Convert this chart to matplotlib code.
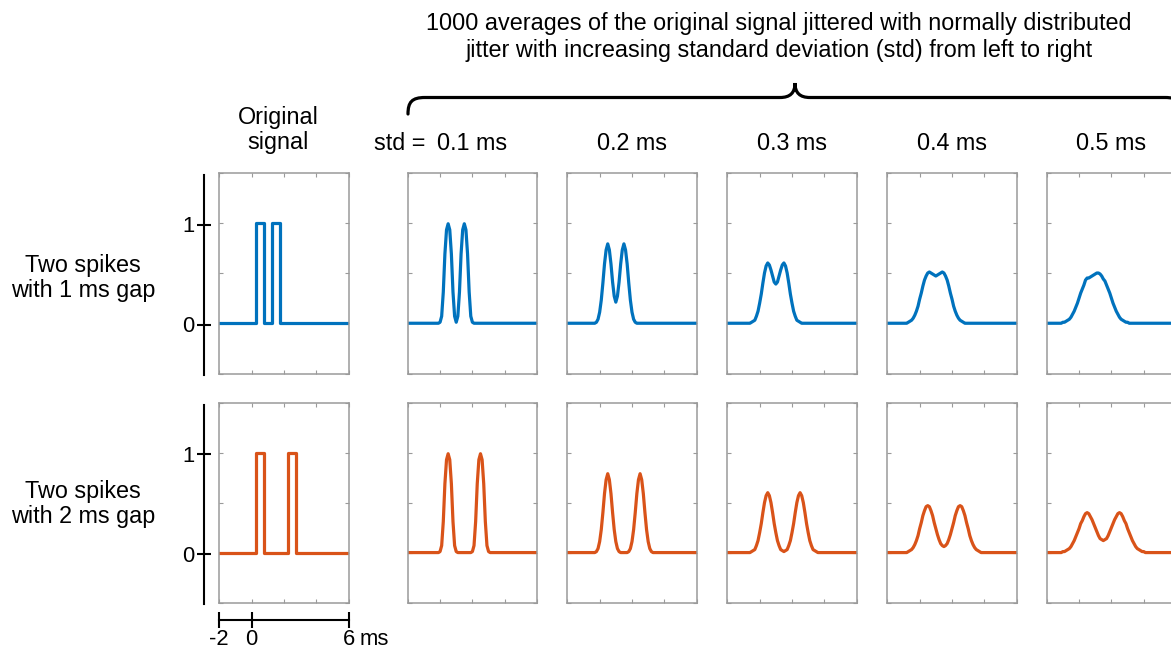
import numpy as np
import matplotlib
matplotlib.use("Agg")
import matplotlib.pyplot as plt
from matplotlib.path import Path
from matplotlib.patches import PathPatch

plt.rcParams["font.family"] = ["Liberation Sans", "DejaVu Sans"]

# === DATA ===
# original signal (step curves), ms
orig_t_gap1 = [-2, 0.25, 0.25, 0.75, 0.75, 1.25, 1.25, 1.75, 1.75, 6]
orig_t_gap2 = [-2, 0.25, 0.25, 0.75, 0.75, 2.25, 2.25, 2.75, 2.75, 6]
orig_y = [0, 0, 1, 1, 0, 0, 1, 1, 0, 0]

# sample times of the averaged (jittered) traces, ms
t_gap1 = np.round(np.arange(-1.2, 3.21, 0.1), 1)
t_gap2 = np.round(np.arange(-1.2, 4.21, 0.1), 1)

std_labels = ["0.1 ms", "0.2 ms", "0.3 ms", "0.4 ms", "0.5 ms"]

# two spikes with 1 ms gap, averaged traces (std 0.1 ... 0.5 ms)
gap1_std01 = [0, 0, 0, 0, 0, 0, 0, 0, 0, 0, 0, 0,
              0.01, 0.07, 0.31, 0.69, 0.93, 0.99, 0.93, 0.69, 0.31, 0.07, 0.01,
              0.07, 0.31, 0.69, 0.93, 0.99, 0.93, 0.69, 0.31, 0.07, 0.01,
              0, 0, 0, 0, 0, 0, 0, 0, 0, 0, 0, 0]
gap1_std02 = [0, 0, 0, 0, 0, 0, 0, 0, 0, 0,
              0.01, 0.04, 0.11, 0.23, 0.40, 0.59, 0.73, 0.79, 0.73, 0.59,
              0.41, 0.27, 0.21, 0.27, 0.41, 0.59, 0.73, 0.79, 0.73, 0.59,
              0.40, 0.23, 0.11, 0.04, 0.01,
              0, 0, 0, 0, 0, 0, 0, 0, 0, 0]
gap1_std03 = [0, 0, 0, 0, 0, 0, 0,
              0.01, 0.02, 0.03, 0.07, 0.12, 0.20, 0.29, 0.40, 0.50, 0.57,
              0.60, 0.58, 0.53, 0.47, 0.41, 0.39, 0.41, 0.47, 0.53, 0.58,
              0.60, 0.57, 0.50, 0.40, 0.29, 0.20, 0.12, 0.07, 0.03, 0.02, 0.01,
              0, 0, 0, 0, 0, 0, 0]
gap1_std04 = [0, 0, 0, 0, 0,
              0.01, 0.02, 0.03, 0.05, 0.08, 0.12, 0.17, 0.24, 0.30, 0.37,
              0.43, 0.47, 0.50, 0.51, 0.50, 0.49, 0.48, 0.47, 0.48, 0.49,
              0.50, 0.51, 0.50, 0.47, 0.43, 0.37, 0.30, 0.24, 0.17, 0.12,
              0.08, 0.05, 0.03, 0.02, 0.01,
              0, 0, 0, 0, 0]
gap1_std05 = [0, 0, 0.01, 0.01, 0.02, 0.03, 0.04, 0.06, 0.09, 0.12,
              0.16, 0.20, 0.25, 0.30, 0.34, 0.38, 0.43, 0.45, 0.45, 0.46,
              0.47, 0.48, 0.49, 0.50, 0.50, 0.49, 0.47, 0.44, 0.42, 0.38,
              0.34, 0.30, 0.25, 0.20, 0.16, 0.12, 0.09, 0.06, 0.04, 0.03,
              0.02, 0.01, 0.01, 0, 0]

# two spikes with 2 ms gap
gap2_std01 = [0, 0, 0, 0, 0, 0, 0, 0, 0, 0, 0, 0,
              0.01, 0.07, 0.31, 0.69, 0.93, 0.99, 0.93, 0.69, 0.31, 0.07, 0.01,
              0, 0, 0, 0, 0, 0, 0, 0, 0,
              0.01, 0.07, 0.31, 0.69, 0.93, 0.99, 0.93, 0.69, 0.31, 0.07, 0.01,
              0, 0, 0, 0, 0, 0, 0, 0, 0, 0, 0, 0]
gap2_std02 = [0, 0, 0, 0, 0, 0, 0, 0, 0, 0,
              0.01, 0.04, 0.11, 0.23, 0.40, 0.59, 0.73, 0.79, 0.73, 0.59,
              0.40, 0.23, 0.11, 0.04, 0.01,
              0, 0, 0, 0, 0,
              0.01, 0.04, 0.11, 0.23, 0.40, 0.59, 0.73, 0.79, 0.73, 0.59,
              0.40, 0.23, 0.11, 0.04, 0.01,
              0, 0, 0, 0, 0, 0, 0, 0, 0, 0]
gap2_std03 = [0, 0, 0, 0, 0, 0, 0,
              0.01, 0.02, 0.03, 0.07, 0.12, 0.20, 0.29, 0.40, 0.50, 0.57,
              0.60, 0.57, 0.50, 0.40, 0.29, 0.20, 0.12, 0.07, 0.03, 0.02,
              0.01, 0.02, 0.03, 0.07, 0.12, 0.20, 0.29, 0.40, 0.50, 0.57,
              0.60, 0.57, 0.50, 0.40, 0.29, 0.20, 0.12, 0.07, 0.03, 0.02, 0.01,
              0, 0, 0, 0, 0, 0, 0]
gap2_std04 = [0, 0, 0, 0, 0,
              0.01, 0.02, 0.03, 0.05, 0.08, 0.12, 0.17, 0.24, 0.30, 0.37,
              0.42, 0.46, 0.47, 0.46, 0.42, 0.37, 0.30, 0.24, 0.18, 0.13,
              0.09, 0.07, 0.06, 0.07, 0.09, 0.13, 0.18, 0.24, 0.30, 0.37,
              0.42, 0.46, 0.47, 0.46, 0.42, 0.37, 0.30, 0.24, 0.17, 0.12,
              0.08, 0.05, 0.03, 0.02, 0.01,
              0, 0, 0, 0, 0]
gap2_std05 = [0, 0, 0.01, 0.01, 0.02, 0.03, 0.04, 0.06, 0.09, 0.12,
              0.16, 0.20, 0.24, 0.29, 0.32, 0.36, 0.39, 0.40, 0.39, 0.36,
              0.33, 0.29, 0.25, 0.21, 0.17, 0.14, 0.13, 0.12, 0.13, 0.14,
              0.17, 0.21, 0.25, 0.29, 0.33, 0.36, 0.39, 0.40, 0.39, 0.36,
              0.32, 0.29, 0.24, 0.20, 0.16, 0.12, 0.09, 0.06, 0.04, 0.03,
              0.02, 0.01, 0.01, 0, 0]

rows = [
    ("Two spikes\nwith 1 ms gap", orig_t_gap1, t_gap1,
     [gap1_std01, gap1_std02, gap1_std03, gap1_std04, gap1_std05], "#0072BD"),
    ("Two spikes\nwith 2 ms gap", orig_t_gap2, t_gap2,
     [gap2_std01, gap2_std02, gap2_std03, gap2_std04, gap2_std05], "#D95319"),
]

# === LAYOUT (pixel) ===
W, H = 1171, 649
col_left = [219.3, 407.7, 567.3, 727.3, 887.3, 1046.7]
panel_w = 129.4
row_top = [172.5, 402.8]
row_bot = [373.5, 602.5]
row_label_y = [278, 504]
frame_col = "#9a9a9a"
FS = 16.8

fig = plt.figure(figsize=(W / 100, H / 100), dpi=100)


def px_axes(left, top, right, bottom):
    return fig.add_axes([left / W, 1 - bottom / H, (right - left) / W, (bottom - top) / H])


def ftext(x, y, s, **kw):
    fig.text(x / W, 1 - y / H, s, **kw)


def style_panel(ax):
    ax.set_xlim(-2, 6)
    ax.set_ylim(-0.5, 1.5)
    ax.set_xticks([-2, 0, 2, 4, 6])
    ax.set_yticks([-0.5, 0, 0.5, 1, 1.5])
    ax.tick_params(direction="in", length=3, width=0.8, color=frame_col,
                   top=True, right=True, labelbottom=False, labelleft=False)
    for sp in ax.spines.values():
        sp.set_color(frame_col)
        sp.set_linewidth(1.1)


for r, (label, orig_t, t, traces, color) in enumerate(rows):
    top, bot = row_top[r], row_bot[r]

    ax = px_axes(col_left[0], top, col_left[0] + panel_w, bot)
    ax.plot(orig_t, orig_y, color=color, lw=2.3, solid_joinstyle="round")
    style_panel(ax)

    for c, y in enumerate(traces):
        ax = px_axes(col_left[c + 1], top, col_left[c + 1] + panel_w, bot)
        xx = np.concatenate([[-2], t, [6]])
        yy = np.concatenate([[0], y, [0]])
        ax.plot(xx, yy, color=color, lw=2.3, solid_joinstyle="round")
        style_panel(ax)

    # black amplitude axis on the left
    sc = px_axes(204.3, top + 2, 204.4, bot + 1)
    sc.set_ylim(-0.5, 1.5)
    sc.set_xticks([])
    sc.set_yticks([0, 1])
    sc.set_yticklabels(["0", "1"])
    sc.tick_params(axis="y", direction="inout", length=10, width=1.5,
                   labelsize=FS - 1, pad=2)
    for k in ["top", "right", "bottom"]:
        sc.spines[k].set_visible(False)
    sc.spines["left"].set_linewidth(1.5)
    sc.patch.set_visible(False)

    ftext(83, row_label_y[r], label, ha="center", va="center",
          fontsize=FS, linespacing=1.12)

# time scale bar under the original signal
sb = px_axes(col_left[0], 620, col_left[0] + panel_w, 620.1)
sb.set_xlim(-2, 6)
sb.set_ylim(0, 1)
sb.set_yticks([])
sb.set_xticks([-2, 0, 6])
sb.set_xticklabels([])
sb.tick_params(axis="x", direction="inout", length=12, width=1.5)
for k in ["top", "right", "left"]:
    sb.spines[k].set_visible(False)
sb.spines["bottom"].set_linewidth(1.5)
sb.patch.set_visible(False)
for xv, s in [(-2, "-2"), (0, "0"), (6, "6")]:
    sb.annotate(s, xy=(xv, 0), xytext=(0, -6.5), textcoords="offset points",
                ha="center", va="top", fontsize=FS - 1)
sb.annotate("ms", xy=(6, 0), xytext=(7.5, -6.5), textcoords="offset points",
            ha="left", va="top", fontsize=FS - 1)

# column headers
ftext(278, 130, "Original\nsignal", ha="center", va="center",
      fontsize=FS, linespacing=1.15)
ftext(425, 143, "std =", ha="right", va="center", fontsize=FS)
for c, s in enumerate(std_labels):
    ftext(col_left[c + 1] + panel_w / 2, 143, s, ha="center", va="center", fontsize=FS)

ftext(779, 37, "1000 averages of the original signal jittered with normally distributed\n"
      "jitter with increasing standard deviation (std) from left to right",
      ha="center", va="center", fontsize=FS, linespacing=1.25)

# curly brace over the jittered columns
brace = [(408, 114), (408, 102), (412, 97.5), (425, 97.5),
         (780, 97.5),
         (790, 97.5), (795, 93), (795, 83),
         (795, 93), (800, 97.5), (810, 97.5),
         (1165, 97.5),
         (1178, 97.5), (1182, 102), (1182, 114)]
codes = [Path.MOVETO, Path.CURVE4, Path.CURVE4, Path.CURVE4,
         Path.LINETO,
         Path.CURVE4, Path.CURVE4, Path.CURVE4,
         Path.CURVE4, Path.CURVE4, Path.CURVE4,
         Path.LINETO,
         Path.CURVE4, Path.CURVE4, Path.CURVE4]
verts = [(x / W, 1 - y / H) for x, y in brace]
fig.patches.append(PathPatch(Path(verts, codes), transform=fig.transFigure,
                             fill=False, lw=2.3, color="black", capstyle="round"))

fig.savefig("out.png", dpi=100)
plt.close(fig)
